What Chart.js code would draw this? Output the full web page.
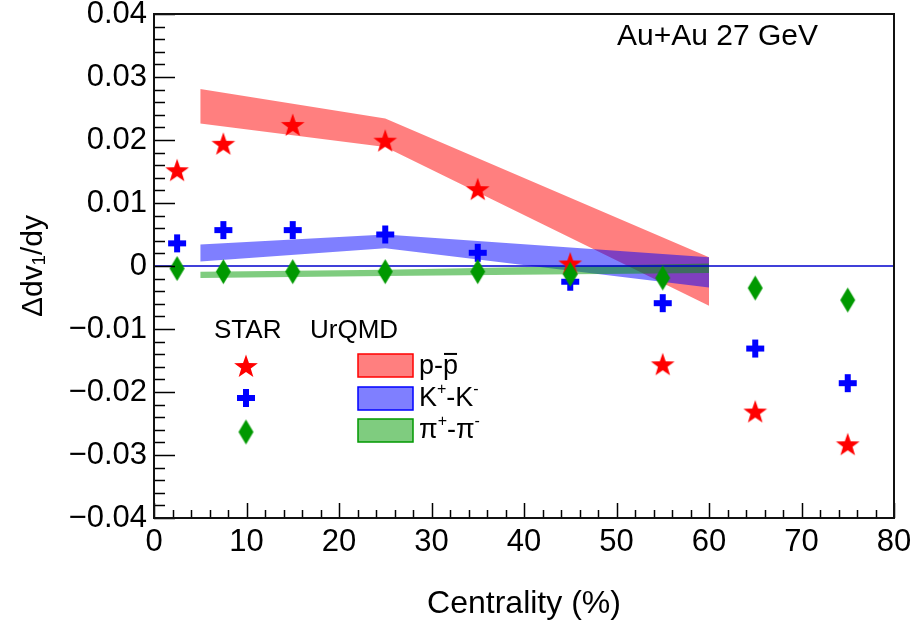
<!DOCTYPE html>
<html>
<head>
<meta charset="utf-8">
<script src="https://cdn.jsdelivr.net/npm/chart.js@4.4.1/dist/chart.umd.min.js"></script>
<style>
  body { margin: 0; background: #fff; }
  #wrap { width: 913px; height: 626px; position: relative; }
</style>
</head>
<body>
<div id="wrap"><canvas id="chart"></canvas></div>
<script>
// STAR data points (centrality bins)
const centrality = [2.5, 7.5, 15, 25, 35, 45, 55, 65, 75];
const starProton = [0.0152, 0.0194, 0.0224, 0.0199, 0.0122, 0.0004, -0.0156, -0.0231, -0.0283];
const starKaon = [0.0036, 0.0057, 0.0057, 0.0050, 0.0021, -0.0025, -0.0059, -0.0131, -0.0186];
const starPion = [-0.0004, -0.0009, -0.0009, -0.0009, -0.0009, -0.0013, -0.0019, -0.0035, -0.0054];

// UrQMD bands (upper / lower edges)
const modelCentrality = [5, 25, 60];
const urqmdProtonHigh = [0.0281, 0.0234, 0.0014];
const urqmdProtonLow = [0.0226, 0.0189, -0.0063];
const urqmdKaonHigh = [0.0034, 0.0050, 0.0014];
const urqmdKaonLow = [0.0007, 0.0028, -0.0034];
const urqmdPionHigh = [-0.0009, -0.0006, 0.0004];
const urqmdPionLow = [-0.0019, -0.0016, -0.0011];

// axes
const xRange = [0, 80];
const yRange = [-0.04, 0.04];
const xStep = 10;
const yStep = 0.01;

const FONT = "'Liberation Sans', Arial, Helvetica, sans-serif";
const RED = '#ff0000', BLUE = '#0000ff', GREEN = '#009900';

function pts(xs, ys) {
    return xs.map((x, i) => ({ x: x, y: ys[i] }));
}

// Marker images (ROOT style full star / cross / diamond)
function makeStar(color) {
    const c = document.createElement('canvas');
    c.width = 26; c.height = 26;
    const g = c.getContext('2d');
    g.fillStyle = color;
    g.beginPath();
    for (let i = 0; i < 10; i++) {
        const r = i % 2 === 0 ? 12.5 : 5;
        const a = -Math.PI / 2 + i * Math.PI / 5;
        const px = 13 + r * Math.cos(a), py = 14 + r * Math.sin(a);
        if (i === 0) g.moveTo(px, py); else g.lineTo(px, py);
    }
    g.closePath();
    g.fill();
    return c;
}
function makeCross(color) {
    const c = document.createElement('canvas');
    c.width = 20; c.height = 20;
    const g = c.getContext('2d');
    g.fillStyle = color;
    g.fillRect(7, 1, 6, 18);
    g.fillRect(1, 7, 18, 6);
    return c;
}
function makeDiamond(color) {
    const c = document.createElement('canvas');
    c.width = 17; c.height = 27;
    const g = c.getContext('2d');
    g.fillStyle = color;
    g.beginPath();
    g.moveTo(8.5, 1); g.lineTo(16, 13.5); g.lineTo(8.5, 26); g.lineTo(1, 13.5);
    g.closePath();
    g.fill();
    return c;
}
const starImg = makeStar(RED);
const crossImg = makeCross(BLUE);
const diamondImg = makeDiamond(GREEN);

function bandEdge(label, data, color, order, fillTarget) {
    return {
        label: label,
        data: data,
        borderColor: 'transparent',
        borderWidth: 0,
        backgroundColor: color,
        pointRadius: 0,
        tension: 0,
        fill: fillTarget,
        order: order
    };
}
function markers(label, data, img, order) {
    return {
        label: label,
        data: data,
        showLine: false,
        pointStyle: img,
        pointRadius: 10,
        borderColor: 'transparent',
        backgroundColor: 'transparent',
        order: order
    };
}

// draw text with simple super-scripts
function drawRuns(ctx, x, y, runs, size) {
    let cx = x;
    runs.forEach(r => {
        const fs = r.sup ? Math.round(size * 0.6) : size;
        ctx.font = fs + 'px ' + FONT;
        const dy = r.sup ? -size * 0.45 : 0;
        ctx.fillText(r.t, cx, y + dy);
        const w = ctx.measureText(r.t).width;
        if (r.bar) {
            ctx.fillRect(cx + 1, y - size * 0.78, w - 2, 2);
        }
        cx += w;
    });
}

const rootStyle = {
    id: 'rootStyle',
    afterDraw(chart) {
        const { ctx, chartArea: a, scales: { x, y } } = chart;
        ctx.save();
        ctx.strokeStyle = '#000';
        ctx.lineWidth = 1.5;
        ctx.beginPath();
        // y ticks (major every 0.01, minor every 0.002)
        for (let i = -20; i <= 20; i++) {
            const py = Math.round(y.getPixelForValue(i * 0.002)) + 0.5;
            const len = i % 5 === 0 ? 21 : 11;
            ctx.moveTo(a.left, py); ctx.lineTo(a.left + len, py);
        }
        // x ticks (major every 10, minor every 2)
        for (let i = 0; i <= 40; i++) {
            const px = Math.round(x.getPixelForValue(i * 2)) + 0.5;
            const len = i % 5 === 0 ? 15 : 8;
            ctx.moveTo(px, a.bottom); ctx.lineTo(px, a.bottom - len);
        }
        ctx.stroke();

        // frame
        ctx.lineWidth = 2;
        ctx.strokeStyle = '#111';
        ctx.strokeRect(a.left, a.top, a.right - a.left, a.bottom - a.top);

        ctx.fillStyle = '#000';
        ctx.textBaseline = 'alphabetic';
        ctx.textAlign = 'left';
        ctx.font = '30px ' + FONT;
        ctx.fillText('Au+Au 27 GeV', 617, 45);

        // legend
        ctx.font = '26px ' + FONT;
        ctx.fillText('STAR', 214, 338);
        ctx.fillText('UrQMD', 310, 338);
        ctx.drawImage(starImg, 246 - 13, 367 - 14);
        ctx.drawImage(crossImg, 246 - 10, 398 - 10);
        ctx.drawImage(diamondImg, 246 - 8.5, 432 - 13.5);

        const boxes = [
            { y: 354, fill: 'rgba(255,0,0,0.5)', line: RED },
            { y: 387, fill: 'rgba(0,0,255,0.5)', line: BLUE },
            { y: 419, fill: 'rgba(0,153,0,0.5)', line: GREEN }
        ];
        boxes.forEach(b => {
            ctx.fillStyle = b.fill;
            ctx.fillRect(358, b.y, 55, 23);
            ctx.strokeStyle = b.line;
            ctx.lineWidth = 1.5;
            ctx.strokeRect(358, b.y, 55, 23);
        });
        ctx.fillStyle = '#000';
        drawRuns(ctx, 419, 374, [{ t: 'p-' }, { t: 'p', bar: true }], 27);
        drawRuns(ctx, 419, 406, [{ t: 'K' }, { t: '+', sup: true }, { t: '-K' }, { t: '-', sup: true }], 27);
        drawRuns(ctx, 419, 438, [{ t: 'π' }, { t: '+', sup: true }, { t: '-π' }, { t: '-', sup: true }], 27);
        ctx.restore();
    }
};

new Chart(document.getElementById('chart'), {
    type: 'line',
    data: {
        datasets: [
            bandEdge('UrQMD p-pbar', pts(modelCentrality, urqmdProtonHigh), 'rgba(255,0,0,0.5)', 20, '+1'),
            bandEdge('p low', pts(modelCentrality, urqmdProtonLow), 'transparent', 20, false),
            bandEdge('UrQMD K+-K-', pts(modelCentrality, urqmdKaonHigh), 'rgba(0,0,255,0.5)', 18, '+1'),
            bandEdge('K low', pts(modelCentrality, urqmdKaonLow), 'transparent', 18, false),
            bandEdge('UrQMD pi+-pi-', pts(modelCentrality, urqmdPionHigh), 'rgba(0,153,0,0.5)', 16, '+1'),
            bandEdge('pi low', pts(modelCentrality, urqmdPionLow), 'transparent', 16, false),
            {
                label: 'zero',
                data: pts(xRange, [0, 0]),
                borderColor: '#0000cc',
                borderWidth: 1.5,
                pointRadius: 0,
                fill: false,
                order: 10
            },
            markers('STAR p-pbar', pts(centrality, starProton), starImg, 3),
            markers('STAR K+-K-', pts(centrality, starKaon), crossImg, 2),
            markers('STAR pi+-pi-', pts(centrality, starPion), diamondImg, 1)
        ]
    },
    options: {
        responsive: true,
        maintainAspectRatio: false,
        animation: false,
        layout: { padding: { left: 0, right: 19, top: 14, bottom: 0 } },
        plugins: {
            legend: { display: false },
            tooltip: { enabled: false }
        },
        scales: {
            x: {
                type: 'linear',
                min: xRange[0],
                max: xRange[1],
                grid: { display: false, drawTicks: false },
                border: { display: false },
                ticks: {
                    stepSize: xStep,
                    padding: 6,
                    color: '#000',
                    font: { family: FONT, size: 31 },
                    maxRotation: 0
                },
                title: {
                    display: true,
                    text: 'Centrality (%)',
                    color: '#000',
                    font: { family: FONT, size: 32 },
                    padding: { top: 0, bottom: 3 }
                },
                afterFit(scale) {
                    scale.height = 108;
                    scale.paddingLeft = 0;
                    scale.paddingRight = 0;
                }
            },
            y: {
                min: yRange[0],
                max: yRange[1],
                grid: { display: false, drawTicks: false },
                border: { display: false },
                ticks: {
                    stepSize: yStep,
                    padding: 7,
                    color: '#000',
                    font: { family: FONT, size: 31 },
                    callback: v => Math.abs(v) < 1e-9 ? '0' : v.toFixed(2).replace('-', '\u2212')
                },
                title: {
                    display: true,
                    text: 'Δdv\u2081/dy',
                    color: '#000',
                    font: { family: FONT, size: 30, lineHeight: 1 },
                    padding: { top: 19, bottom: 0 }
                },
                afterFit(scale) {
                    scale.width = 154;
                    scale.paddingTop = 0;
                    scale.paddingBottom = 0;
                }
            }
        }
    },
    plugins: [rootStyle]
});
</script>
</body>
</html>
